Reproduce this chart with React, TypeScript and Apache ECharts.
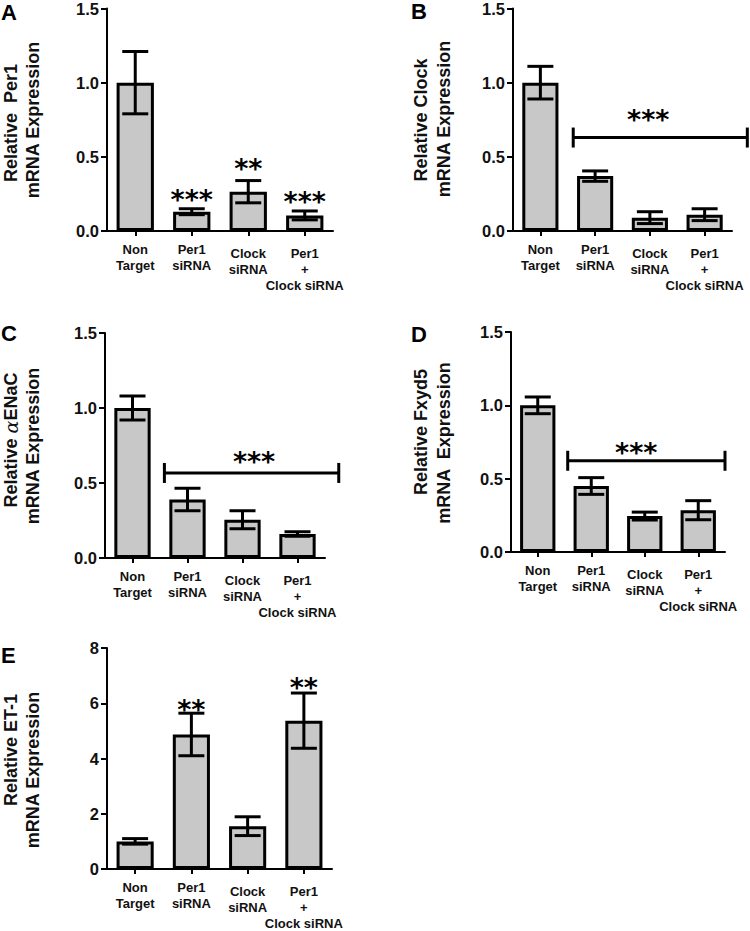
import React, { useEffect, useRef } from 'react';
import * as echarts from 'echarts';

// ---------- data ----------
const categories = ['Non\nTarget', 'Per1\nsiRNA', 'Clock\nsiRNA', 'Per1\n+\nClock siRNA'];

const per1Mean = [1.0, 0.13, 0.265, 0.105];
const per1Err = [0.21, 0.02, 0.075, 0.03];
const clockMean = [1.0, 0.37, 0.09, 0.11];
const clockErr = [0.11, 0.035, 0.04, 0.04];
const enacMean = [1.0, 0.39, 0.255, 0.16];
const enacErr = [0.08, 0.075, 0.06, 0.015];
const fxydMean = [1.0, 0.45, 0.245, 0.285];
const fxydErr = [0.057, 0.057, 0.027, 0.065];
const et1Mean = [1.0, 4.87, 1.55, 5.37];
const et1Err = [0.1, 0.77, 0.34, 1.0];

const yTicksSmall = ['0.0', '0.5', '1.0', '1.5'];
const yTicksET1 = ['0', '2', '4', '6', '8'];

// star annotations: [category position, value, text]
const per1Stars: [number, number, string][] = [[1, 0.243, '***'], [2, 0.457, '**'], [3, 0.235, '***']];
const clockStars: [number, number, string][] = [[1.97, 0.784, '***']];
const enacStars: [number, number, string][] = [[2.21, 0.679, '***']];
const fxydStars: [number, number, string][] = [[1.84, 0.714, '***']];
const et1Stars: [number, number, string][] = [[1, 5.95, '**'], [3, 6.74, '**']];

// significance brackets: [from, to, value]
const clockBracket: [number, number, number][] = [[0.6, 3.78, 0.63]];
const enacBracket: [number, number, number][] = [[0.58, 3.75, 0.567]];
const fxydBracket: [number, number, number][] = [[0.56, 3.5, 0.622]];

const FONT = '"Liberation Sans", Arial, Helvetica, sans-serif';

type Panel = {
  letter: string;
  line1: string;
  line2: string;
  mean: number[];
  err: number[];
  ticks: string[];
  max: number;
  interval: number;
  stars: [number, number, string][];
  brackets: [number, number, number][];
  grid: { left: number; top: number; width: number; height: number };
  letterPos: [number, number];
  l1: [number, number];
  l2: [number, number];
};

const panels: Panel[] = [
  {
    letter: 'A', line1: 'Relative  Per1', line2: 'mRNA Expression',
    mean: per1Mean, err: per1Err, ticks: yTicksSmall, max: 1.5, interval: 0.5,
    stars: per1Stars, brackets: [],
    grid: { left: 107, top: 7, width: 226, height: 224 },
    letterPos: [1, 1], l1: [11, 123], l2: [33, 120],
  },
  {
    letter: 'B', line1: 'Relative Clock', line2: 'mRNA Expression',
    mean: clockMean, err: clockErr, ticks: yTicksSmall, max: 1.5, interval: 0.5,
    stars: clockStars, brackets: clockBracket,
    grid: { left: 513, top: 7, width: 219, height: 224 },
    letterPos: [411, 0], l1: [421, 120], l2: [444, 119],
  },
  {
    letter: 'C', line1: 'Relative {a|α}ENaC', line2: 'mRNA Expression',
    mean: enacMean, err: enacErr, ticks: yTicksSmall, max: 1.5, interval: 0.5,
    stars: enacStars, brackets: enacBracket,
    grid: { left: 105, top: 333, width: 220, height: 225 },
    letterPos: [1, 322], l1: [11, 440], l2: [33, 446],
  },
  {
    letter: 'D', line1: 'Relative Fxyd5', line2: 'mRNA  Expression',
    mean: fxydMean, err: fxydErr, ticks: yTicksSmall, max: 1.5, interval: 0.5,
    stars: fxydStars, brackets: fxydBracket,
    grid: { left: 511, top: 332, width: 214, height: 220 },
    letterPos: [411, 323], l1: [421, 432], l2: [444, 443],
  },
  {
    letter: 'E', line1: 'Relative ET-1', line2: 'mRNA Expression',
    mean: et1Mean, err: et1Err, ticks: yTicksET1, max: 8, interval: 2,
    stars: et1Stars, brackets: [],
    grid: { left: 107, top: 648, width: 225, height: 225 },
    letterPos: [1, 644], l1: [11, 750], l2: [33, 770],
  },
];

function buildOption() {
  const grid: any[] = [];
  const xAxis: any[] = [];
  const yAxis: any[] = [];
  const series: any[] = [];
  const graphic: any[] = [];

  panels.forEach((p, i) => {
    grid.push({ ...p.grid, containLabel: false });
    // category axis (visible)
    xAxis.push({
      type: 'category',
      gridIndex: i,
      position: 'bottom',
      z: 10,
      data: categories.map((c, k) => ({
        value: c,
        textStyle: k >= 2 ? { padding: [4, 0, 0, 0] } : {},
      })),
      axisLine: { show: true, onZero: false, lineStyle: { color: '#000', width: 2 } },
      axisTick: { show: true, alignWithLabel: true, length: 5, lineStyle: { color: '#000', width: 2 } },
      axisLabel: {
        color: '#111', fontFamily: FONT, fontWeight: 'bold', fontSize: 13,
        lineHeight: 16, margin: 10, interval: 0,
      },
      splitLine: { show: false },
    });
    // hidden value axis for annotations
    xAxis.push({
      type: 'value', gridIndex: i, min: -0.5, max: 3.5, show: false, position: 'top',
      axisLine: { show: false, onZero: false },
      splitLine: { show: false },
    });
    yAxis.push({
      type: 'value', gridIndex: i, min: 0, max: p.max, interval: p.interval,
      position: 'left',
      axisLine: { show: true, onZero: false, lineStyle: { color: '#000', width: 2 } },
      axisTick: { show: true, length: 6, lineStyle: { color: '#000', width: 2 } },
      axisLabel: {
        color: '#111', fontFamily: FONT, fontWeight: 'bold', fontSize: 16.5, margin: 8,
        formatter: (v: number) => p.ticks[Math.round(v / p.interval)] ?? '',
      },
      splitLine: { show: false },
    });

    const catIdx = 2 * i;
    const valIdx = 2 * i + 1;

    series.push({
      type: 'bar',
      xAxisIndex: catIdx,
      yAxisIndex: i,
      data: p.mean,
      barWidth: '66%',
      itemStyle: { color: '#c8c8c8', borderColor: '#000', borderWidth: 3 },
      z: 2,
    });

    // error bars
    series.push({
      type: 'custom',
      xAxisIndex: valIdx,
      yAxisIndex: i,
      z: 5,
      data: p.mean.map((m, k) => [k, m, p.err[k]]),
      renderItem: (params: any, api: any) => {
        const x = api.value(0);
        const m = api.value(1);
        const e = api.value(2);
        const top = api.coord([x, m + e]);
        const bot = api.coord([x, m - e]);
        const hw = 13;
        const st = { stroke: '#000', lineWidth: 3 };
        return {
          type: 'group',
          children: [
            { type: 'line', shape: { x1: top[0], y1: top[1], x2: bot[0], y2: bot[1] }, style: st },
            { type: 'line', shape: { x1: top[0] - hw, y1: top[1], x2: top[0] + hw, y2: top[1] }, style: st },
            { type: 'line', shape: { x1: bot[0] - hw, y1: bot[1], x2: bot[0] + hw, y2: bot[1] }, style: st },
          ],
        };
      },
    });

    // stars
    series.push({
      type: 'custom',
      xAxisIndex: valIdx,
      yAxisIndex: i,
      z: 6,
      data: p.stars.map((s) => [s[0], s[1]]),
      renderItem: (params: any, api: any) => {
        const pt = api.coord([api.value(0), api.value(1)]);
        const txt = p.stars[params.dataIndex][2];
        return {
          type: 'text',
          x: pt[0],
          y: pt[1] + 5,
          style: {
            text: txt, fill: '#000', align: 'center', verticalAlign: 'middle',
            fontFamily: '"DejaVu Sans", sans-serif', fontWeight: 'bold', fontSize: 27,
          },
        };
      },
    });

    if (p.brackets.length) {
      series.push({
        type: 'custom',
        xAxisIndex: valIdx,
        yAxisIndex: i,
        z: 6,
        clip: false,
        data: p.brackets.map((b) => [b[0], b[1], b[2]]),
        renderItem: (params: any, api: any) => {
          const a = api.coord([api.value(0), api.value(2)]);
          const b = api.coord([api.value(1), api.value(2)]);
          const st = { stroke: '#000', lineWidth: 3 };
          return {
            type: 'group',
            children: [
              { type: 'line', shape: { x1: a[0], y1: a[1], x2: b[0], y2: b[1] }, style: st },
              { type: 'line', shape: { x1: a[0], y1: a[1] - 10, x2: a[0], y2: a[1] + 10 }, style: st },
              { type: 'line', shape: { x1: b[0], y1: b[1] - 10, x2: b[0], y2: b[1] + 10 }, style: st },
            ],
          };
        },
      });
    }

    // panel letter
    graphic.push({
      type: 'text', x: p.letterPos[0], y: p.letterPos[1],
      style: { text: p.letter, fill: '#000', fontFamily: FONT, fontWeight: 'bold', fontSize: 22, align: 'left', verticalAlign: 'top' },
    });
    // y titles (two lines)
    const titleStyle = {
      fill: '#111', fontFamily: FONT, fontWeight: 'bold', fontSize: 18, align: 'center', verticalAlign: 'middle',
      rich: {
        a: { fontFamily: '"DejaVu Serif", serif', fontStyle: 'italic', fontWeight: 'normal', fontSize: 19, fill: '#111' },
      },
    };
    graphic.push({
      type: 'text', x: p.l1[0], y: p.l1[1], rotation: Math.PI / 2,
      style: { ...titleStyle, text: p.line1 },
    });
    graphic.push({
      type: 'text', x: p.l2[0], y: p.l2[1], rotation: Math.PI / 2,
      style: { ...titleStyle, text: p.line2 },
    });
  });

  return {
    animation: false,
    backgroundColor: '#fff',
    grid, xAxis, yAxis, series, graphic,
  };
}

export default function App() {
  const ref = useRef<HTMLDivElement>(null);
  useEffect(() => {
    document.body.style.margin = '0';
    if (!ref.current) return;
    const chart = echarts.init(ref.current, undefined, { renderer: 'svg' });
    chart.setOption(buildOption() as any);
    return () => chart.dispose();
  }, []);
  return <div ref={ref} style={{ width: 750, height: 931 }} />;
}
